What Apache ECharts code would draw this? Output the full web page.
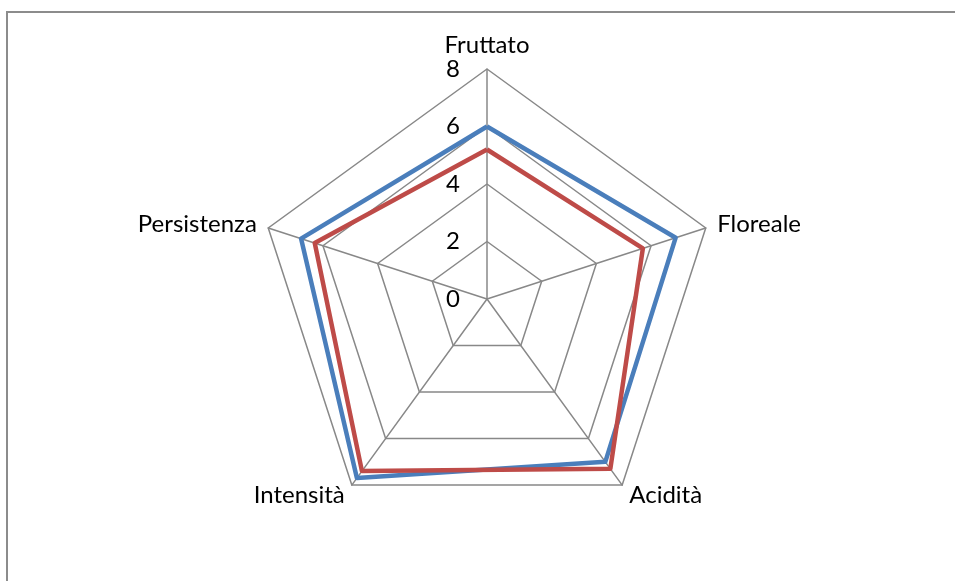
<!DOCTYPE html>
<html>
<head>
<meta charset="utf-8">
<script src="https://cdn.jsdelivr.net/npm/echarts@6/dist/echarts.min.js"></script>
<style>
  html, body { margin: 0; padding: 0; background: #fff; }
  #chart { width: 955px; height: 581px; }
</style>
</head>
<body>
<div id="chart"></div>
<script>
// categories, clockwise from the top as in the picture
const categories = ['Fruttato', 'Floreale', 'Acidità', 'Intensità', 'Persistenza']
const serieBlu = [6.0, 6.9, 7.0, 7.7, 6.8]
const serieRossa = [5.2, 5.7, 7.3, 7.4, 6.3]
const tickValues = [0, 2, 4, 6, 8]

// echarts lays radar indicators counterclockwise, so reverse all but the first
function ccw (arr) {
  return [arr[0]].concat(arr.slice(1).reverse())
}

const font = 'Lato, "Open Sans", sans-serif'
const grigio = '#888888'

let myChart = echarts.init(document.getElementById('chart'))
myChart.setOption({
  animation: false,
  graphic: [{
    type: 'rect',
    shape: { x: 7, y: 12, width: 1000, height: 620 },
    style: { fill: 'none', stroke: '#8c8c8c', lineWidth: 2 },
    silent: true
  }],
  // hidden axis used only to print the 0..8 labels next to the top spoke
  grid: { left: 487, top: 69, width: 1, height: 230 },
  xAxis: { type: 'value', show: false },
  yAxis: {
    type: 'value',
    min: 0,
    max: 8,
    interval: 2,
    axisLine: { show: false },
    axisTick: { show: false },
    splitLine: { show: false },
    axisLabel: {
      margin: 27,
      fontSize: 24,
      fontFamily: font,
      color: '#000',
      formatter: v => tickValues.indexOf(v) >= 0 ? String(v) : ''
    }
  },
  radar: {
    center: [487, 299],
    radius: 230,
    startAngle: 90,
    splitNumber: 4,
    shape: 'polygon',
    indicator: ccw(categories).map(n => ({ name: n, min: 0, max: 8 })),
    axisName: {
      color: '#000',
      fontSize: 24,
      fontFamily: font
    },
    nameGap: 12,
    axisLine: { lineStyle: { color: grigio, width: 1.5 } },
    splitLine: { lineStyle: { color: grigio, width: 1.5 } },
    splitArea: { show: false },
    axisTick: { show: false },
    axisLabel: { show: false }
  },
  series: [{
    type: 'radar',
    symbol: 'none',
    data: [
      {
        value: ccw(serieBlu),
        lineStyle: { color: '#4A7EBB', width: 4.5 },
        itemStyle: { color: '#4A7EBB' }
      },
      {
        value: ccw(serieRossa),
        lineStyle: { color: '#BE4B48', width: 4.5 },
        itemStyle: { color: '#BE4B48' }
      }
    ]
  }]
})
</script>
</body>
</html>
